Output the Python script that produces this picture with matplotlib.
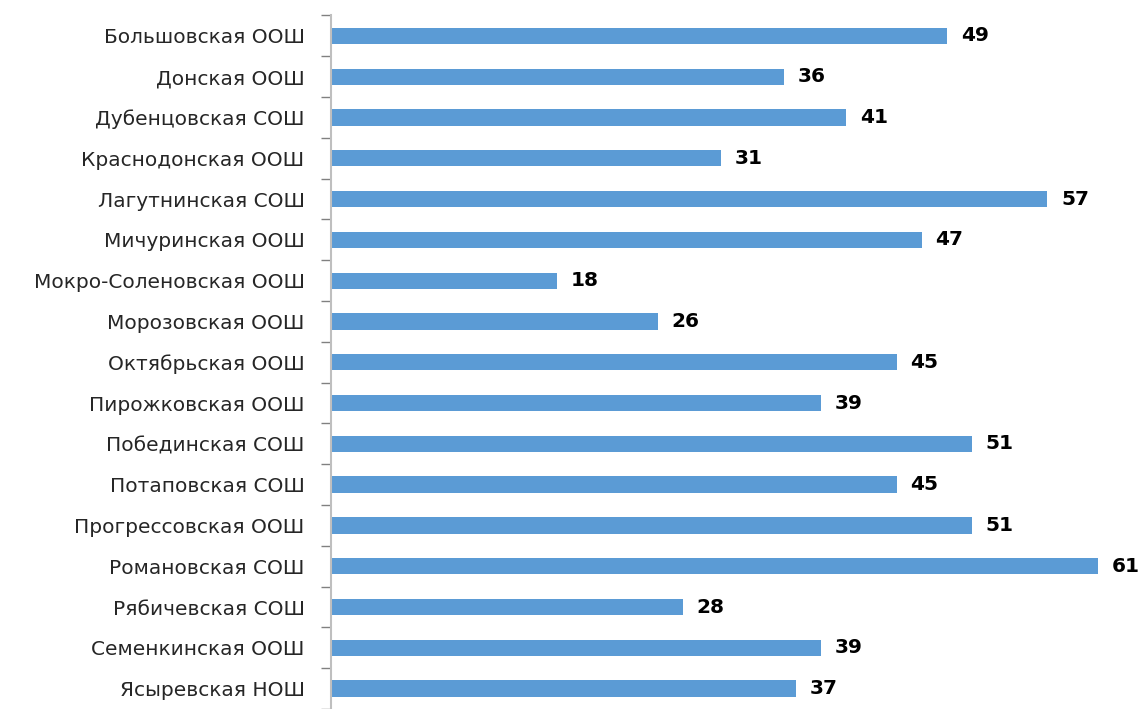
import matplotlib.pyplot as plt

# Schools and values (top to bottom)
schools = [
    "Большовская ООШ", "Донская ООШ", "Дубенцовская СОШ", "Краснодонская ООШ",
    "Лагутнинская СОШ", "Мичуринская ООШ", "Мокро-Соленовская ООШ", "Морозовская ООШ",
    "Октябрьская ООШ", "Пирожковская ООШ", "Побединская СОШ", "Потаповская СОШ",
    "Прогрессовская ООШ", "Романовская СОШ", "Рябичевская СОШ", "Семенкинская ООШ",
    "Ясыревская НОШ",
]
values = [49, 36, 41, 31, 57, 47, 18, 26, 45, 39, 51, 45, 51, 61, 28, 39, 37]

fig = plt.figure(figsize=(11.45, 7.09), dpi=100)
ax = fig.add_axes([331 / 1145, 0, 1 - 331 / 1145, 1 - 15.5 / 709])

pos = list(range(len(schools)))
ax.barh(pos, values, height=0.4, color="#5B9BD5")

for y, v in zip(pos, values):
    ax.text(v + 1.1, y, str(v), va="center", ha="left",
            fontsize=14.5, fontweight="bold", color="black")

ax.set_xlim(0, (1145 - 331) / 12.57)
ax.set_ylim(16.39, -0.5)

ax.set_yticks(pos)
ax.set_yticklabels(schools, fontsize=14.5, color="#262626")
ax.set_yticks([p - 0.5 for p in pos] + [16.5], minor=True)
ax.tick_params(axis="y", which="major", length=0, pad=19)
ax.tick_params(axis="y", which="minor", length=7, width=1, color="#808080")
ax.set_xticks([])

for side in ["top", "right", "bottom"]:
    ax.spines[side].set_visible(False)
ax.spines["left"].set_color("#bfbfbf")
ax.spines["left"].set_linewidth(1.5)

fig.savefig("out.png", dpi=100)
